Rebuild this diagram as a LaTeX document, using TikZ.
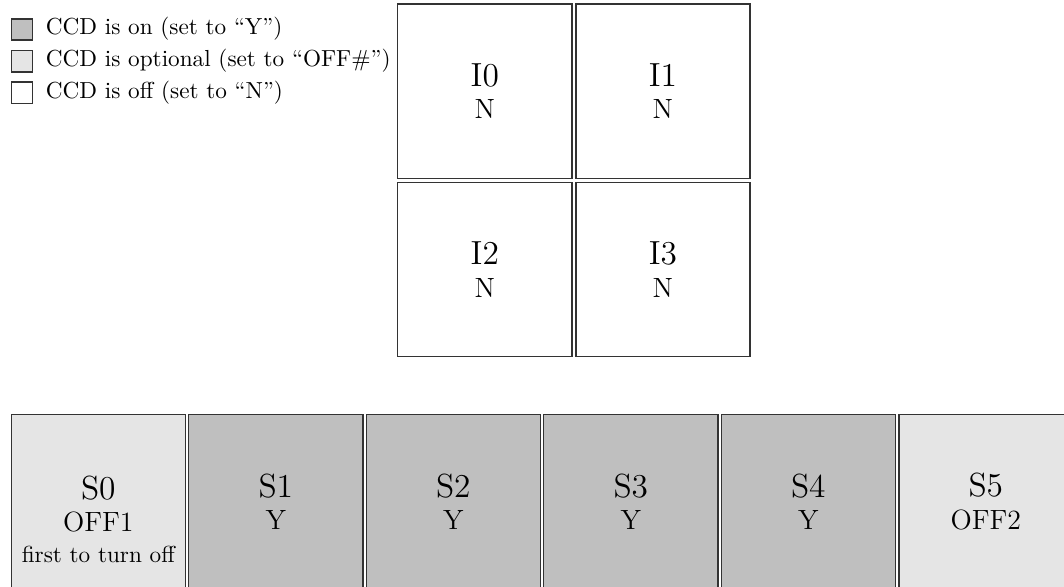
\documentclass[tikz,border=0pt]{standalone}
\begin{document}
\begin{tikzpicture}[x=0.4310pt,y=-0.4310pt,
  cell/.style={draw=black!80, line width=0.6pt, minimum width=75pt, minimum height=75pt, inner sep=0pt, align=center, font=\large},
  oncell/.style={cell, fill=black!25},
  optcell/.style={cell, fill=black!10},
  offcell/.style={cell, fill=white},
  keybox/.style={draw=black!80, line width=0.6pt, minimum size=9.2pt, inner sep=0pt},
  keytext/.style={anchor=base west, inner sep=0pt, font=\normalsize}]
\clip (0,0) rectangle (1064,587);
\fill[white] (0,0) rectangle (1064,587);
% legend
\node[keybox, fill=black!25] (k1) at (22,29.5) {};
\node[keybox, fill=black!10] (k2) at (22,61.2) {};
\node[keybox, fill=white] (k3) at (22,92.7) {};
\node[keytext] (t1) at (45.5,35) {CCD is on (set to “Y”)};
\node[keytext] (t2) at (45.5,66.7) {CCD is optional (set to “OFF\#”)};
\node[keytext] (t3) at (45.5,98.3) {CCD is off (set to “N”)};
% I cells
\node[offcell] (i0) at (484.8,91.2) {{\Large I0}\\N};
\node[offcell] (i1) at (662.9,91.2) {{\Large I1}\\N};
\node[offcell] (i2) at (484.8,269.5) {{\Large I2}\\N};
\node[offcell] (i3) at (662.9,269.5) {{\Large I3}\\N};
% S cells
\node[optcell] (s0) at (98.3,501.5) {};
\node[oncell] (s1) at (275.8,501.5) {{\Large S1}\\Y};
\node[oncell] (s2) at (453.3,501.5) {{\Large S2}\\Y};
\node[oncell] (s3) at (630.8,501.5) {{\Large S3}\\Y};
\node[oncell] (s4) at (808.3,501.5) {{\Large S4}\\Y};
\node[optcell] (s5) at (985.8,501.5) {{\Large S5}\\OFF2};
\node[align=center, font=\large, inner sep=0pt] (s0t) at (98.3,504) {{\Large S0}\\OFF1};
\node[anchor=base, inner sep=0pt, font=\normalsize] (s0n) at (98.3,562) {first to turn off};
\end{tikzpicture}
\end{document}
